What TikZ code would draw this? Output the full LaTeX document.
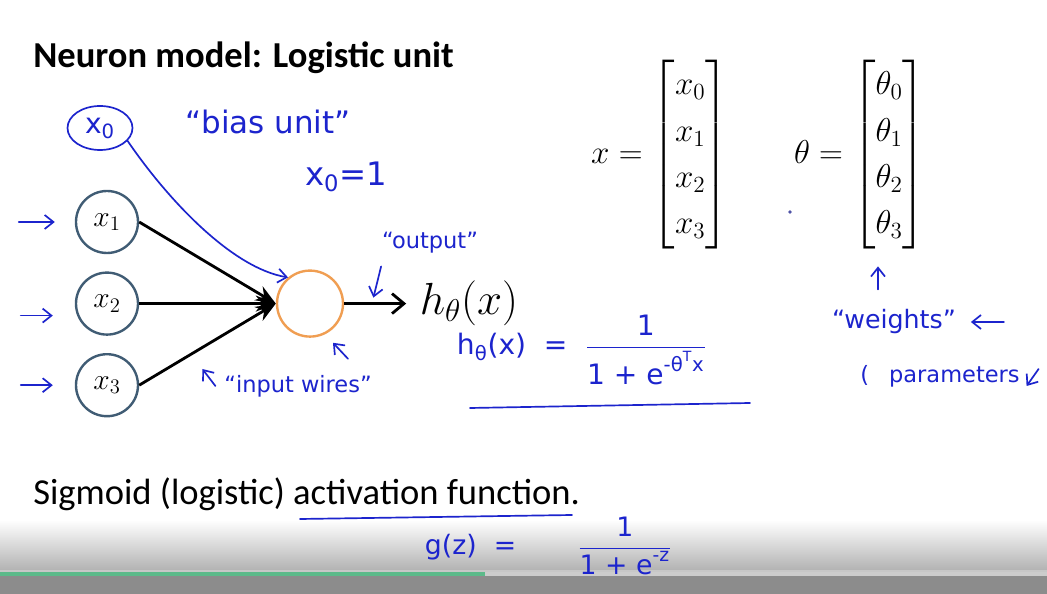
\RequirePackage{fix-cm}
\documentclass[tikz,border=0pt]{standalone}
\usepackage{amsmath}
\usepackage{fontspec}
\setmainfont{Carlito}
\newfontfamily\hand{DejaVu Sans}
\usetikzlibrary{positioning,shapes.geometric,arrows.meta}
\definecolor{slate}{RGB}{64,92,116}
\definecolor{unitorange}{RGB}{240,158,82}
\definecolor{penblue}{RGB}{28,36,205}
\definecolor{bargreen}{RGB}{92,186,138}

\begin{document}
\begin{tikzpicture}[main/.style = {draw=slate, circle, line width=1.7pt, minimum size=15.5mm, inner sep=0pt, font=\fontsize{21}{25}\selectfont},
    unit/.style = {draw=unitorange, circle, line width=1.7pt, minimum size=16.5mm},
    wire/.style = {line width=2pt, -{Stealth[length=5mm, width=4mm]}},
    hw/.style = {text=penblue, font=\hand\fontsize{16}{18}\selectfont},
    pen/.style = {draw=penblue, line width=1.2pt, line cap=round, -{Straight Barb[length=2.2mm, width=3.5mm]}}]
                \useasboundingbox (0,0) rectangle (26.175,-14.85);
                \fill[white] (0,0) rectangle (26.175,-14.85);
                % player bar
                \shade[top color=white, bottom color=black!30] (0,-13.0) rectangle (26.175,-14.25);
                \fill[black!22] (0,-14.25) rectangle (26.175,-14.3);
                \fill[bargreen] (0,-14.3) rectangle (12.125,-14.4);
                \fill[black!20] (12.125,-14.3) rectangle (26.175,-14.4);
                \fill[black!45] (0,-14.4) rectangle (26.175,-14.85);

                \node (title) [anchor=base west, inner sep=0pt, font=\bfseries\fontsize{26}{30}\selectfont] at (0.825,-1.7) {Neuron model: Logistic unit};

                \node[main] (1) at (2.675,-5.55) {$x_1$};
                \node[main] (2) [below of=1, node distance=20.4mm] {$x_2$};
                \node[main] (3) [below of=2, node distance=20.4mm] {$x_3$};
                \node[unit] (4) [right of=2, node distance=50.75mm] {};
                \node (h) [right=1.85cm of 4, inner sep=1pt, font=\fontsize{32}{36}\selectfont] {$h_\theta(x)$};

                \draw[wire] (1.east) -- (4.west);
                \draw[wire] (2) -- (4);
                \draw[wire] (3.east) -- (4.west);
                \draw[line width=2pt, -{Straight Barb[length=3mm, width=5mm]}, shorten >=3mm] (4) -- (h);

                \node (vx) at (16.5,-3.875) [font=\fontsize{23.5}{33}\selectfont] {$x = \begin{bmatrix} x_0\\ x_1\\ x_2\\ x_3 \end{bmatrix}$};
                \node (vt) at (21.5,-3.875) [font=\fontsize{23.5}{33}\selectfont] {$\theta = \begin{bmatrix} \theta_0\\ \theta_1\\ \theta_2\\ \theta_3 \end{bmatrix}$};
                \fill[penblue!50!gray] (19.75,-5.3) circle (1.3pt);

                % pen notes
                \node[hw, ellipse, draw=penblue, line width=1.2pt, minimum width=16.25mm, minimum height=11mm, font=\hand\fontsize{20}{22}\selectfont] (0) at (2.5,-3.2) {x\textsubscript{0}};
                \node[hw, font=\hand\fontsize{22}{24}\selectfont] (bias) at (6.7,-3.05) {“bias unit”};
                \node[hw, font=\hand\fontsize{23}{25}\selectfont] (x0val) at (8.65,-4.425) {x\textsubscript{0}=1};
                \draw[pen] (0.-25) .. controls (4.2,-5.0) and (5.8,-6.7) .. (4.130);

                \draw[pen] ([xshift=-14mm]1.west) -- ([xshift=-5mm]1.west);
                \draw[pen] ([xshift=-13.5mm, yshift=-3mm]2.west) -- ([xshift=-5.5mm, yshift=-3mm]2.west);
                \draw[pen] ([xshift=-13.5mm]3.west) -- ([xshift=-5.5mm]3.west);

                \node[hw] (out) at (10.75,-6.075) {“output”};
                \draw[pen] ([xshift=1mm, yshift=-2mm]out.south west) -- ([xshift=7.3mm, yshift=1.5mm]4.east);
                \draw[pen] ([xshift=9.5mm, yshift=-5.25mm]4.south) -- ([xshift=5.75mm, yshift=-1.25mm]4.south);

                \node[hw] (wires) at (7.45,-9.65) {“input wires”};
                \draw[pen] ([xshift=-1mm]wires.west) -- ([xshift=-4.25mm, yshift=4.25mm]wires.west);

                \node[hw, anchor=west, font=\hand\fontsize{20}{22}\selectfont] (hf) at (11.3,-8.75) {h\textsubscript{θ}(x) \ = \ $\dfrac{\text{1}}{\text{1 + e}^{\text{-θ}^{\text{T}}\text{x}}}$};
                \draw[pen, -] ([shift={(0.45,-1.45)}]hf.west) -- ([shift={(7.45,-1.325)}]hf.west);

                \draw[pen] ([xshift=4.5mm, yshift=-8.75mm]vt.south) -- ([xshift=4.5mm, yshift=-3mm]vt.south);
                \node[hw, font=\hand\fontsize{18}{20}\selectfont] (wts) at (22.35,-8.05) {“weights”};
                \draw[pen] ([xshift=10.75mm]wts.east) -- ([xshift=2.5mm]wts.east);
                \node[hw] (par) at (23.5,-9.4) {(\hspace{5mm}parameters};
                \draw[pen] ([xshift=3.5mm, yshift=1.75mm]par.east) -- ([xshift=0.5mm, yshift=-2.5mm]par.east);

                \node (sig) [anchor=base west, inner sep=0pt, font=\fontsize{26}{30}\selectfont] at (0.825,-12.625) {Sigmoid (logistic) activation function.};
                \draw[pen, -] (7.5,-12.975) -- (14.3,-12.875);
                \node[hw, anchor=west, font=\hand\fontsize{19}{21}\selectfont] (gz) at (10.5,-13.65) {g(z) \ = \qquad$\dfrac{\text{1}}{\text{1 + e}^{\text{-z}}}$};

            \end{tikzpicture}
\end{document}
